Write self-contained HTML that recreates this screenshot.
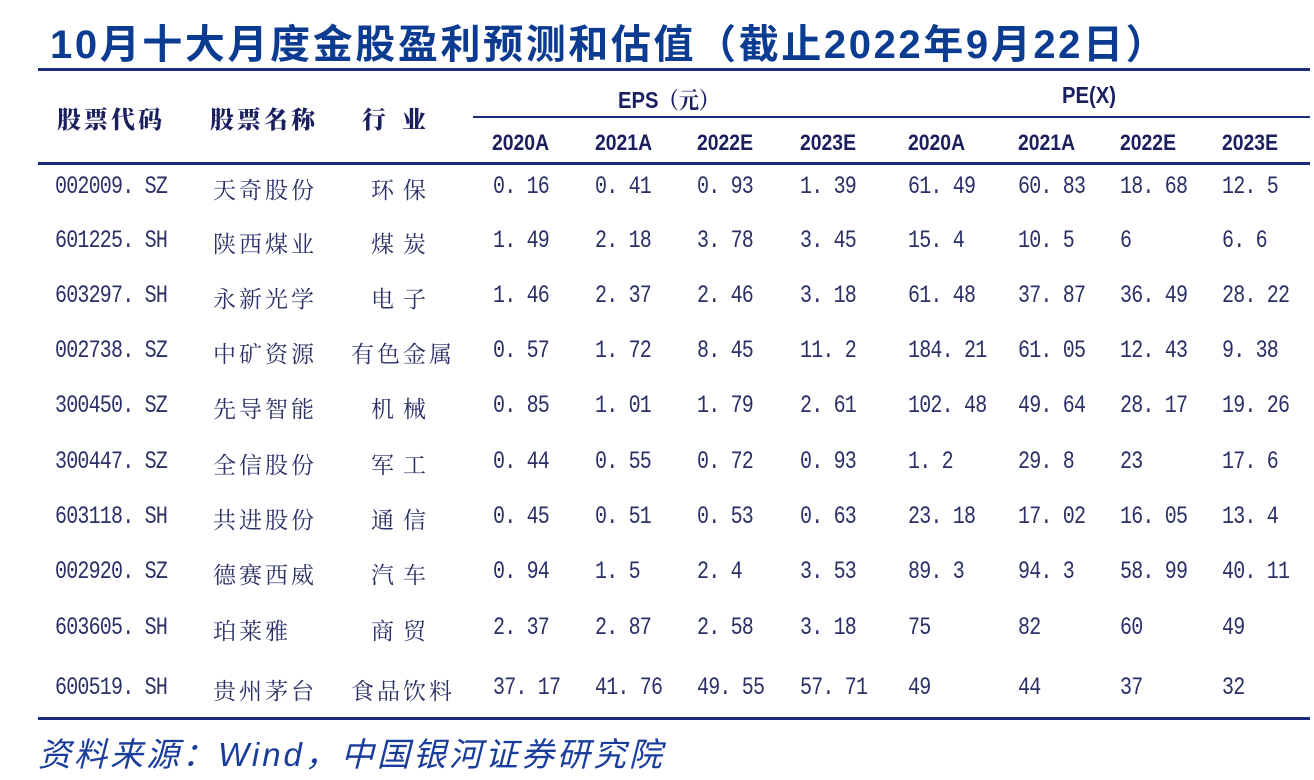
<!DOCTYPE html>
<html><head><meta charset="utf-8"><style>
body{margin:0;width:1314px;height:780px;background:#fff;position:relative;overflow:hidden}
.a{position:absolute;white-space:nowrap}
.t{left:50px;top:12px;font:bold 40px "Liberation Sans","Noto Sans CJK SC",sans-serif;color:#0b3c92;letter-spacing:2.6px}
.r{position:absolute;background:#1b2a7a}
.h{font:900 24px "Noto Serif CJK SC",serif;color:#1a1f5e;letter-spacing:3px}
.y{font:bold 22px "Liberation Sans",sans-serif;color:#1a1f5e;transform:scaleX(0.88);transform-origin:left}
.n{font:25px "Liberation Mono",monospace;color:#2a2f66;transform:scaleX(0.8);transform-origin:left;letter-spacing:-1px}
.c{font:23px "Noto Serif CJK SC",serif;color:#2a2f66;letter-spacing:3px}
.s{left:38px;top:728px;font:italic 33px "Liberation Sans","Noto Sans CJK SC",sans-serif;color:#1a3d9c;letter-spacing:3px}
</style></head><body>
<div class="a t">10月十大月度金股盈利预测和估值（截止2022年9月22日）</div>
<div class="r" style="left:38px;top:68px;width:1272px;height:3px"></div>
<div class="r" style="left:473px;top:116px;width:837px;height:2px"></div>
<div class="r" style="left:38px;top:162px;width:1272px;height:3px"></div>
<div class="r" style="left:38px;top:717px;width:1272px;height:3px"></div>
<div class="a h" style="left:57px;top:100px">股票代码</div>
<div class="a h" style="left:210px;top:100px">股票名称</div>
<div class="a h" style="left:362px;top:100px;letter-spacing:16px">行业</div>
<div class="a y" style="left:618px;top:82px;font-size:23px">EPS<span style="font-family:'Noto Serif CJK SC',serif">（元）</span></div>
<div class="a y" style="left:1062px;top:82px;font-size:23px">PE(X)</div>
<div class="a y" style="left:492px;top:130px">2020A</div>
<div class="a y" style="left:595px;top:130px">2021A</div>
<div class="a y" style="left:697px;top:130px">2022E</div>
<div class="a y" style="left:800px;top:130px">2023E</div>
<div class="a y" style="left:908px;top:130px">2020A</div>
<div class="a y" style="left:1018px;top:130px">2021A</div>
<div class="a y" style="left:1120px;top:130px">2022E</div>
<div class="a y" style="left:1222px;top:130px">2023E</div>
<div id="rows"></div>
<div class="a s">资料来源：Wind，中国银河证券研究院</div>
<script>
var d=[["002009. SZ","天奇股份","环保","0. 16","0. 41","0. 93","1. 39","61. 49","60. 83","18. 68","12. 5"],
["601225. SH","陕西煤业","煤炭","1. 49","2. 18","3. 78","3. 45","15. 4","10. 5","6","6. 6"],
["603297. SH","永新光学","电子","1. 46","2. 37","2. 46","3. 18","61. 48","37. 87","36. 49","28. 22"],
["002738. SZ","中矿资源","有色金属","0. 57","1. 72","8. 45","11. 2","184. 21","61. 05","12. 43","9. 38"],
["300450. SZ","先导智能","机械","0. 85","1. 01","1. 79","2. 61","102. 48","49. 64","28. 17","19. 26"],
["300447. SZ","全信股份","军工","0. 44","0. 55","0. 72","0. 93","1. 2","29. 8","23","17. 6"],
["603118. SH","共进股份","通信","0. 45","0. 51","0. 53","0. 63","23. 18","17. 02","16. 05","13. 4"],
["002920. SZ","德赛西威","汽车","0. 94","1. 5","2. 4","3. 53","89. 3","94. 3","58. 99","40. 11"],
["603605. SH","珀莱雅","商贸","2. 37","2. 87","2. 58","3. 18","75","82","60","49"],
["600519. SH","贵州茅台","食品饮料","37. 17","41. 76","49. 55","57. 71","49","44","37","32"]];
var ys=[172,226,281,336,391,447,502,557,613,673],xs=[493,595,697,800,908,1018,1120,1222],h="";
d.forEach(function(r,i){var y=ys[i];
h+='<div class="a n" style="left:55px;top:'+y+'px">'+r[0]+'</div>';
h+='<div class="a c" style="left:213px;top:'+(y)+'px">'+r[1]+'</div>';
var ls=r[2].length==2?'letter-spacing:9px;':'';
h+='<div class="a c" style="left:343px;width:120px;text-align:center;top:'+(y)+'px;'+ls+'">'+r[2]+'</div>';
for(var j=0;j<8;j++)h+='<div class="a n" style="left:'+xs[j]+'px;top:'+y+'px">'+r[3+j]+'</div>';});
document.getElementById("rows").innerHTML=h;
</script>
</body></html>
